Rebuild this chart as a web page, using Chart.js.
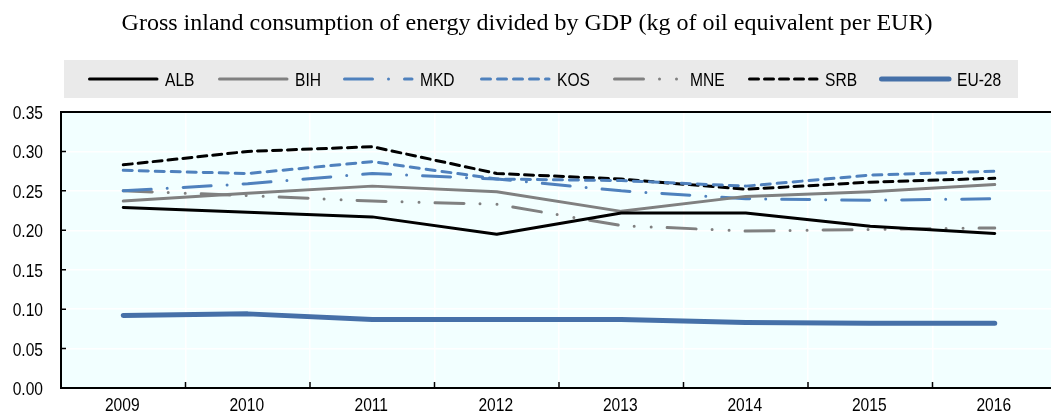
<!DOCTYPE html>
<html lang="en">
<head>
  <meta charset="UTF-8">
  <title>Gross inland consumption of energy divided by GDP</title>
  <style>
    html, body { margin: 0; padding: 0; background: #fff; overflow: hidden; }
    /* the plot runs a few pixels past the right edge of the picture */
    #Chart { width: 1051px; height: 415px; overflow: hidden; }
  </style>
</head>
<body>

<div id="Chart">
  <canvas id="myChart" width="1057" height="415"></canvas>
</div>

<script src="https://cdn.jsdelivr.net/npm/chart.js"></script>
<script>

  const years = ['2009', '2010', '2011', '2012', '2013', '2014', '2015', '2016'];
  const alb  = [0.229, 0.223, 0.217, 0.195, 0.222, 0.222, 0.205, 0.196];
  const bih  = [0.237, 0.247, 0.256, 0.249, 0.224, 0.243, 0.249, 0.258];
  const mkd  = [0.250, 0.259, 0.272, 0.265, 0.250, 0.240, 0.238, 0.240];
  const kos  = [0.276, 0.272, 0.287, 0.265, 0.263, 0.256, 0.270, 0.275];
  const mne  = [0.250, 0.244, 0.237, 0.233, 0.206, 0.199, 0.201, 0.203];
  const srb  = [0.283, 0.300, 0.306, 0.272, 0.265, 0.252, 0.261, 0.266];
  const eu28 = [0.092, 0.094, 0.087, 0.087, 0.087, 0.083, 0.082, 0.082];
  const yTicks = [0, 0.05, 0.10, 0.15, 0.20, 0.25, 0.30, 0.35];

  const title = 'Gross inland consumption of energy divided by GDP (kg of oil equivalent per EUR)';

  // no narrow font installed, so squeeze Liberation Sans like Arial Narrow
  const labelFont = "19px 'Liberation Sans', Arial, sans-serif";
  const squeeze = 0.82;

  // where each legend entry starts
  const legendX = [88, 218, 343, 480, 613, 748, 880];

  function line(label, data, color, width, dash){
    return {
      label: label,
      data: data,
      borderColor: color,
      backgroundColor: color,
      borderWidth: width,
      borderDash: dash,
      borderCapStyle: 'round',
      borderJoinStyle: 'round',
      pointRadius: 0,
      pointHoverRadius: 0,
      tension: 0,
      fill: false
    };
  }

  function narrowText(ctx, text, x, y, align){
    ctx.save();
    ctx.translate(x, y);
    ctx.scale(squeeze, 1);
    ctx.textAlign = align;
    ctx.textBaseline = 'alphabetic';
    ctx.fillText(text, 0, 0);
    ctx.restore();
  }

  const extras = {
    id: 'extras',
    beforeDraw(chart){
      const {ctx, chartArea: a} = chart;
      ctx.save();
      ctx.fillStyle = '#F2FFFF';
      ctx.fillRect(a.left, a.top, a.right - a.left, a.bottom - a.top);
      ctx.restore();
    },
    afterDraw(chart){
      const {ctx, chartArea: a} = chart;
      const x = chart.scales.x, y = chart.scales.y;
      ctx.save();

      // top frame line
      ctx.strokeStyle = '#000';
      ctx.lineWidth = 2;
      ctx.beginPath();
      ctx.moveTo(a.left, a.top);
      ctx.lineTo(a.right, a.top);
      ctx.stroke();

      // inward tick marks
      ctx.lineWidth = 1.5;
      ctx.beginPath();
      y.ticks.forEach((t, i) => {
        const py = y.getPixelForTick(i);
        ctx.moveTo(a.left, py);
        ctx.lineTo(a.left + 5, py);
      });
      for (let i = 1; i < years.length; i++){
        const px = (x.getPixelForValue(i - 1) + x.getPixelForValue(i)) / 2;
        ctx.moveTo(px, a.bottom);
        ctx.lineTo(px, a.bottom - 6);
      }
      ctx.stroke();

      // tick labels
      ctx.fillStyle = '#000';
      ctx.font = labelFont;
      y.ticks.forEach((t, i) => {
        narrowText(ctx, t.value.toFixed(2), a.left - 18, y.getPixelForTick(i) + 7, 'right');
      });
      years.forEach((lab, i) => {
        narrowText(ctx, lab, x.getPixelForValue(i) - 1, a.bottom + 23, 'center');
      });

      // title
      ctx.font = "24px 'Liberation Serif', 'Times New Roman', serif";
      ctx.textAlign = 'center';
      ctx.textBaseline = 'alphabetic';
      ctx.fillText(title, 527, 30);

      // legend
      ctx.fillStyle = '#EAEAEA';
      ctx.fillRect(64, 60, 954, 38);
      ctx.font = labelFont;
      chart.data.datasets.forEach((ds, i) => {
        const lx = legendX[i], ly = 79;
        ctx.strokeStyle = ds.borderColor;
        ctx.lineWidth = ds.borderWidth;
        ctx.lineCap = 'round';
        ctx.setLineDash(ds.borderDash || []);
        ctx.beginPath();
        ctx.moveTo(lx + 1.5, ly);
        ctx.lineTo(lx + 69, ly);
        ctx.stroke();
        ctx.setLineDash([]);
        ctx.fillStyle = '#000';
        narrowText(ctx, ds.label, lx + 77, ly + 7, 'left');
      });
      ctx.restore();
    }
  };

  const blue = '#4F81BD';
  const grey = '#808080';

  const ctx = document.getElementById('myChart');
  new Chart(ctx, {
    type: 'line',
    data: {
      labels: years,
      datasets: [
        line('ALB', alb, '#000000', 3, []),
        line('BIH', bih, grey, 3, []),
        line('MKD', mkd, blue, 3, [28, 16, 0, 16]),
        line('KOS', kos, blue, 3, [9, 7]),
        line('MNE', mne, grey, 3, [29, 16, 0, 17, 0, 16]),
        line('SRB', srb, '#000000', 3, [9, 6]),
        line('EU-28', eu28, '#4570A8', 5, [])
      ]
    },
    options: {
      responsive: false,
      animation: false,
      devicePixelRatio: 1,
      layout: { padding: { top: 112, left: 61, right: 0, bottom: 27 } },
      plugins: {
        legend: { display: false },
        title: { display: false },
        tooltip: { enabled: false }
      },
      scales: {
        x: {
          offset: true,
          grid: { offset: true, color: '#FFFFFF', lineWidth: 1.5, drawTicks: false },
          border: { color: '#000', width: 2 },
          ticks: { display: false }
        },
        y: {
          min: 0,
          max: 0.35,
          afterBuildTicks: (s) => { s.ticks = yTicks.map(v => ({ value: v })); },
          grid: { color: '#FFFFFF', lineWidth: 1.5, drawTicks: false },
          border: { color: '#000', width: 2 },
          ticks: { display: false }
        }
      }
    },
    plugins: [extras]
  });

</script>
</body>
</html>
